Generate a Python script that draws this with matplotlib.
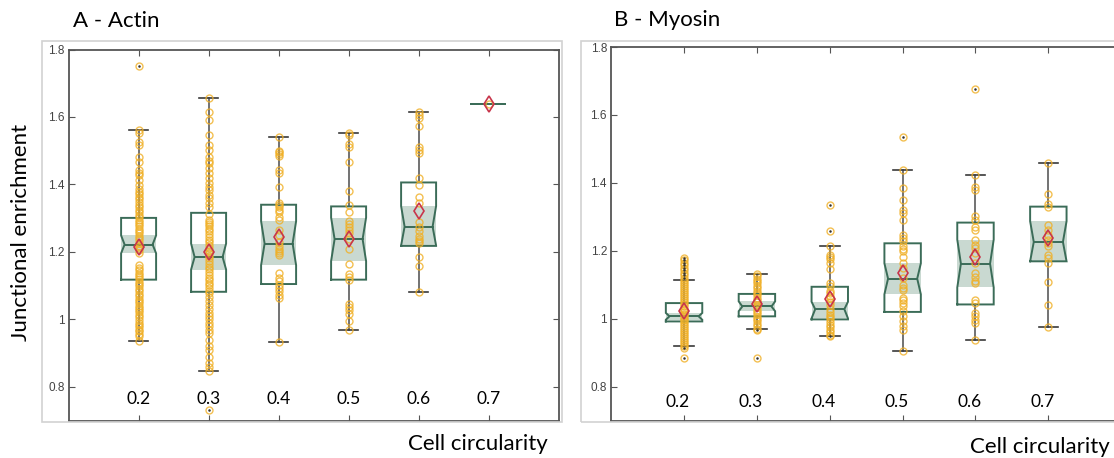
import matplotlib
matplotlib.use("Agg")
import matplotlib.pyplot as plt
from matplotlib.patches import Rectangle
from matplotlib.transforms import ScaledTranslation

# ---------------- data ----------------
circularity = [0.2, 0.3, 0.4, 0.5, 0.6, 0.7]
tick_labels = ["0.2", "0.3", "0.4", "0.5", "0.6", "0.7"]
y_ticks = [0.8, 1.0, 1.2, 1.4, 1.6, 1.8]
y_tick_labels = ["0.8", "1", "1.2", "1.4", "1.6", "1.8"]

actin_points = [
    [1.752, 1.560, 1.552, 1.525, 1.518, 1.481, 1.466, 1.442, 1.435, 1.428, 1.412, 1.398,
     1.388, 1.378, 1.371, 1.362, 1.356, 1.347, 1.340, 1.333, 1.325, 1.318, 1.311, 1.303,
     1.296, 1.290, 1.283, 1.276, 1.268, 1.262, 1.255, 1.247, 1.241, 1.234, 1.226, 1.219,
     1.213, 1.205, 1.198, 1.161, 1.153, 1.147, 1.139, 1.133, 1.125, 1.119, 1.111, 1.104,
     1.098, 1.090, 1.083, 1.076, 1.070, 1.062, 1.055, 1.049, 1.041, 1.034, 1.027, 1.021,
     1.012, 1.006, 0.999, 0.991, 0.985, 0.978, 0.970, 0.965, 0.958, 0.951, 0.936],
    [1.657, 1.616, 1.591, 1.547, 1.517, 1.502, 1.482, 1.470, 1.463, 1.448, 1.433, 1.418,
     1.403, 1.393, 1.383, 1.369, 1.359, 1.344, 1.334, 1.314, 1.296, 1.289, 1.283, 1.276,
     1.268, 1.261, 1.252, 1.245, 1.236, 1.229, 1.220, 1.213, 1.204, 1.196, 1.188, 1.181,
     1.172, 1.165, 1.156, 1.149, 1.140, 1.132, 1.124, 1.117, 1.108, 1.101, 1.092, 1.085,
     1.077, 1.066, 1.056, 1.044, 1.031, 1.020, 1.010, 1.000, 0.990, 0.980, 0.970, 0.959,
     0.939, 0.920, 0.910, 0.890, 0.870, 0.860, 0.847, 0.733],
    [1.541, 1.500, 1.495, 1.490, 1.484, 1.443, 1.434, 1.393, 1.345, 1.340, 1.333, 1.325,
     1.318, 1.305, 1.295, 1.265, 1.250, 1.230, 1.218, 1.210, 1.203, 1.196, 1.192, 1.138,
     1.123, 1.113, 1.103, 1.093, 1.083, 1.073, 1.065, 0.933],
    [1.553, 1.546, 1.521, 1.511, 1.467, 1.381, 1.340, 1.318, 1.293, 1.283, 1.274, 1.264,
     1.255, 1.237, 1.210, 1.164, 1.134, 1.126, 1.118, 1.047, 1.037, 1.027, 1.017, 0.995,
     0.968],
    [1.615, 1.606, 1.596, 1.573, 1.510, 1.502, 1.494, 1.418, 1.399, 1.362, 1.344, 1.290,
     1.274, 1.262, 1.247, 1.238, 1.233, 1.228, 1.186, 1.159, 1.081],
    [1.638],
]
actin_whishi = [1.560, 1.657, 1.541, 1.553, 1.615, 1.638]
actin_q3     = [1.301, 1.316, 1.340, 1.335, 1.406, 1.638]
actin_cihi   = [1.249, 1.225, 1.291, 1.302, 1.336, 1.638]
actin_med    = [1.222, 1.185, 1.225, 1.238, 1.275, 1.638]
actin_cilo   = [1.196, 1.148, 1.161, 1.173, 1.219, 1.638]
actin_q1     = [1.118, 1.082, 1.105, 1.118, 1.218, 1.638]
actin_whislo = [0.936, 0.847, 0.933, 0.968, 1.080, 1.638]
actin_mean   = [1.215, 1.200, 1.243, 1.239, 1.321, 1.638]

myosin_points = [
    [1.178, 1.172, 1.165, 1.158, 1.150, 1.142, 1.135, 1.128, 1.120, 1.114, 1.108, 1.102,
     1.096, 1.090, 1.084, 1.078, 1.072, 1.066, 1.060, 1.054, 1.048, 1.042, 1.036, 1.030,
     1.025, 1.020, 1.015, 1.010, 1.005, 1.000, 0.995, 0.990, 0.985, 0.980, 0.974, 0.968,
     0.962, 0.956, 0.950, 0.944, 0.938, 0.932, 0.926, 0.921, 0.915, 0.884],
    [1.131, 1.125, 1.118, 1.111, 1.104, 1.097, 1.090, 1.083, 1.076, 1.069, 1.062, 1.055,
     1.048, 1.041, 1.034, 1.027, 1.020, 1.013, 1.006, 0.999, 0.992, 0.985, 0.978, 0.971,
     0.966, 0.883],
    [1.336, 1.259, 1.215, 1.188, 1.182, 1.175, 1.163, 1.147, 1.105, 1.097, 1.083, 1.075,
     1.068, 1.060, 1.050, 1.040, 1.030, 1.020, 1.012, 1.005, 0.998, 0.990, 0.982, 0.975,
     0.968, 0.960, 0.953, 0.948],
    [1.536, 1.439, 1.384, 1.350, 1.320, 1.311, 1.291, 1.247, 1.237, 1.228, 1.213, 1.205,
     1.198, 1.183, 1.164, 1.149, 1.120, 1.100, 1.090, 1.085, 1.061, 1.056, 1.046, 1.036,
     1.022, 1.007, 0.993, 0.978, 0.968, 0.906],
    [1.675, 1.423, 1.389, 1.379, 1.301, 1.291, 1.271, 1.262, 1.232, 1.218, 1.208, 1.193,
     1.164, 1.134, 1.124, 1.110, 1.105, 1.056, 1.046, 1.017, 1.007, 0.997, 0.987, 0.938],
    [1.458, 1.367, 1.338, 1.328, 1.276, 1.262, 1.247, 1.232, 1.222, 1.213, 1.188, 1.178,
     1.164, 1.107, 1.039, 0.977],
]
myosin_whishi = [1.115, 1.131, 1.215, 1.439, 1.423, 1.458]
myosin_q3     = [1.046, 1.073, 1.094, 1.222, 1.283, 1.330]
myosin_cihi   = [1.017, 1.051, 1.050, 1.163, 1.233, 1.287]
myosin_med    = [1.007, 1.036, 1.028, 1.118, 1.162, 1.226]
myosin_cilo   = [0.997, 1.022, 1.001, 1.072, 1.092, 1.169]
myosin_q1     = [0.992, 1.007, 0.998, 1.020, 1.042, 1.169]
myosin_whislo = [0.921, 0.971, 0.949, 0.906, 0.937, 0.977]
myosin_mean   = [1.024, 1.043, 1.058, 1.136, 1.183, 1.237]

# ---------------- style ----------------
W, H = 1114, 458
BOX_EDGE = "#3b6c58"
SHADE = "#c9d9d1"
WHISK = "#5a5a5a"
CAP = "#3a3a3a"
PT = "#f0b027"
MEAN = "#c8354b"
SPINE = "#555555"
TXT_FONT = ["Lato", "DejaVu Sans"]

fig = plt.figure(figsize=(W / 100, H / 100), dpi=100)


def px_rect(x0, y0, x1, y1):
    return [x0 / W, (H - y1) / H, (x1 - x0) / W, (y1 - y0) / H]


def draw_panel(ax, pts, whishi, q3, cihi, med, cilo, q1, whislo, mean):
    bw = 0.05
    cw = 0.027
    nf = 0.8
    for i, p in enumerate(circularity):
        l, r = p - bw / 2, p + bw / 2
        # notch shading
        ax.fill_between([l, r], [cilo[i]] * 2, [cihi[i]] * 2, color=SHADE,
                        linewidth=0, zorder=1)
        # whiskers
        ax.plot([p, p], [whislo[i], q1[i]], color=WHISK, lw=1.2, zorder=2)
        ax.plot([p, p], [q3[i], whishi[i]], color=WHISK, lw=1.2, zorder=2)
        ax.plot([p - cw / 2, p + cw / 2], [whishi[i]] * 2, color=CAP, lw=1.2, zorder=2)
        ax.plot([p - cw / 2, p + cw / 2], [whislo[i]] * 2, color=CAP, lw=1.2, zorder=2)
        # notched box outline
        nl = p - nf * bw / 2
        nr = p + nf * bw / 2
        xs = [l, l, nl, l, l, r, r, nr, r, r, l]
        ys = [q1[i], cilo[i], med[i], cihi[i], q3[i], q3[i], cihi[i], med[i],
              cilo[i], q1[i], q1[i]]
        ax.plot(xs, ys, color=BOX_EDGE, lw=1.4, zorder=3, solid_joinstyle="miter")
        ax.plot([nl, nr], [med[i]] * 2, color=BOX_EDGE, lw=1.4, zorder=3)
        # data points
        ax.plot([p] * len(pts[i]), pts[i], linestyle="none", marker="o",
                markersize=5, markerfacecolor="none", markeredgecolor=PT,
                markeredgewidth=1.0, alpha=0.8, zorder=4)
        fl = [v for v in pts[i] if v > whishi[i] or v < whislo[i]]
        ax.plot([p] * len(fl), fl, linestyle="none", marker=".", markersize=1.6,
                color="#333333", zorder=5)
        # mean
        ax.plot([p], [mean[i]], marker="d", markersize=8.5, markerfacecolor="none",
                markeredgecolor=MEAN, markeredgewidth=1.2, zorder=6)

    ax.set_xlim(0.1, 0.8)
    ax.set_ylim(0.7, 1.8)
    ax.set_xticks(circularity)
    ax.set_xticklabels(tick_labels, fontsize=12.5, family=TXT_FONT)
    ax.set_yticks(y_ticks)
    ax.set_yticklabels(y_tick_labels, fontsize=8.5, color="#444444",
                       family=["Liberation Sans", "DejaVu Sans"])
    ax.tick_params(axis="x", direction="in", top=True, bottom=True, length=4,
                   color=SPINE, pad=-15.5)
    ax.tick_params(axis="y", direction="in", left=True, right=True, length=4,
                   color=SPINE, pad=3)
    for lbl in ax.get_xticklabels():
        lbl.set_verticalalignment("center")
    for s in ax.spines.values():
        s.set_color(SPINE)
        s.set_linewidth(1.3)
    ax.set_facecolor("white")


# outer light boxes
for rect in (px_rect(41.8, 40.7, 562, 422.3), px_rect(581.2, 41, 1140, 422.3)):
    fig.patches.append(Rectangle((rect[0], rect[1]), rect[2], rect[3],
                                 transform=fig.transFigure, fill=False,
                                 edgecolor="#d2d2d2", linewidth=1.2))

ax1 = fig.add_axes(px_rect(68.6, 49.5, 558.6, 420.7))
draw_panel(ax1, actin_points, actin_whishi, actin_q3, actin_cihi, actin_med,
           actin_cilo, actin_q1, actin_whislo, actin_mean)

ax2 = fig.add_axes(px_rect(611.2, 47, 1121.2, 420.6))
draw_panel(ax2, myosin_points, myosin_whishi, myosin_q3, myosin_cihi, myosin_med,
           myosin_cilo, myosin_q1, myosin_whislo, myosin_mean)
for lbl in ax2.get_xticklabels():
    lbl.set_transform(lbl.get_transform() + ScaledTranslation(-0.06, -0.03, fig.dpi_scale_trans))

# figure texts
fig.text(73 / W, 1 - 21 / H, "A - Actin", fontsize=16, family=TXT_FONT, va="center", ha="left")
fig.text(614 / W, 1 - 20.5 / H, "B - Myosin", fontsize=16, family=TXT_FONT, va="center", ha="left")
fig.text(21 / W, 1 - 232 / H, "Junctional enrichment", fontsize=16, family=TXT_FONT,
         rotation=90, va="center", ha="center")
fig.text(478 / W, 1 - 444 / H, "Cell circularity", fontsize=16, family=TXT_FONT,
         va="center", ha="center")
fig.text(1040 / W, 1 - 447 / H, "Cell circularity", fontsize=16, family=TXT_FONT,
         va="center", ha="center")

fig.savefig("out.png", dpi=100)
